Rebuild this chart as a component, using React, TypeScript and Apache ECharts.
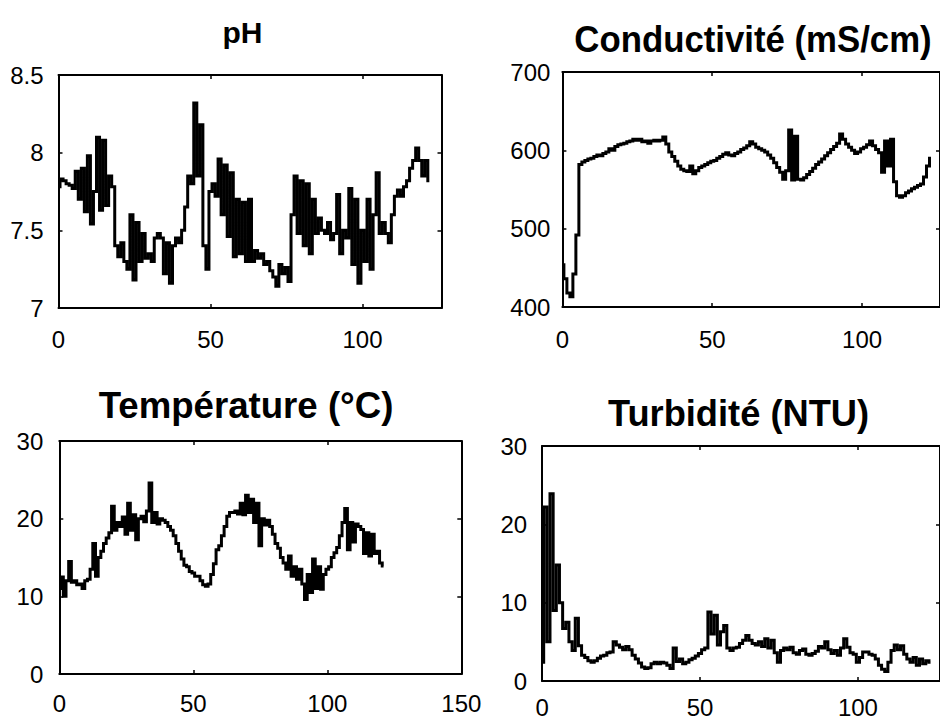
import React, { useEffect, useRef } from "react";
import * as echarts from "echarts";

// ---- data (x = sample index 0,1,2,...) ----
const phValues = [
  7.78, 7.83, 7.82, 7.8, 7.79, 7.77, 7.88, 7.7, 7.9, 7.62,
  7.98, 7.54, 7.75, 8.1, 7.63, 8.08, 7.66, 7.85, 7.78, 7.4,
  7.33, 7.42, 7.3, 7.25, 7.6, 7.18, 7.55, 7.3, 7.48, 7.32,
  7.35, 7.3, 7.45, 7.48, 7.45, 7.22, 7.42, 7.16, 7.4, 7.45,
  7.42, 7.5, 7.65, 7.85, 7.8, 8.32, 7.85, 8.18, 7.4, 7.25,
  7.75, 7.8, 7.72, 7.96, 7.6, 7.92, 7.46, 7.87, 7.33, 7.7,
  7.35, 7.68, 7.3, 7.7, 7.3, 7.37, 7.32, 7.35, 7.28, 7.3,
  7.24, 7.2, 7.14, 7.28, 7.22, 7.26, 7.17, 7.6, 7.85, 7.48,
  7.82, 7.4, 7.8, 7.35, 7.7, 7.48, 7.58, 7.5, 7.48, 7.55,
  7.44, 7.48, 7.73, 7.35, 7.5, 7.45, 7.77, 7.28, 7.7, 7.16,
  7.5, 7.3, 7.7, 7.25, 7.6, 7.87, 7.48, 7.55, 7.48, 7.42,
  7.6, 7.72, 7.76, 7.72, 7.78, 7.82, 7.9, 7.95, 8.03, 7.95,
  7.85, 7.95, 7.82,
];

const condValues = [
  454, 436, 418, 413, 442, 492, 582, 585, 587, 589,
  590, 592, 594, 593, 596, 598, 602, 600, 605, 607,
  608, 609, 611, 612, 614, 613, 614, 611, 612, 609,
  612, 613, 612, 613, 617, 608, 598, 592, 586, 580,
  576, 574, 573, 580, 570, 574, 578, 580, 582, 584,
  586, 587, 590, 592, 595, 597, 594, 593, 596, 598,
  601, 603, 606, 611, 608, 604, 602, 600, 598, 594,
  590, 584, 578, 572, 563, 574, 626, 562, 618, 563,
  562, 565, 569, 573, 577, 582, 585, 589, 593, 597,
  601, 605, 609, 621, 614, 608, 604, 600, 596, 598,
  602, 604, 607, 612, 606, 601, 597, 572, 612, 580,
  614, 560, 542, 540, 542, 546, 548, 551, 553, 555,
  557, 566, 580, 590,
];

const tempValues = [
  11.0, 12.5, 10.0, 12.0, 14.5, 11.8, 12.0, 11.5, 11.6, 11.0,
  12.0, 12.2, 13.5, 16.8, 12.6, 15.0, 15.8, 16.8, 17.5, 18.2,
  21.6, 18.5, 19.5, 19.0, 20.2, 18.0, 22.0, 18.5, 20.5, 17.3,
  20.0, 20.3, 19.6, 21.0, 24.6, 19.5, 20.8, 19.3, 20.0, 19.8,
  19.5, 19.0, 18.5, 17.8, 16.8, 15.8, 14.8, 14.0, 13.8, 13.2,
  13.0, 12.6, 12.6, 12.0, 11.5, 11.3, 11.6, 12.8, 14.2, 16.0,
  16.5, 17.8, 19.0, 20.3, 20.8, 20.8, 21.0, 20.6, 22.0, 20.5,
  23.0, 20.8, 22.5, 19.5, 22.0, 16.5, 20.0, 19.2, 19.8, 19.0,
  18.0, 16.8, 16.2, 15.0, 14.3, 13.5, 15.2, 12.6, 13.8, 12.2,
  13.5, 11.6, 9.6, 12.8, 10.5, 14.8, 11.0, 13.8, 10.9, 12.8,
  13.5, 13.8, 15.0, 15.6, 16.3, 17.8, 19.5, 21.3, 16.0, 19.5,
  17.0, 19.3, 19.0, 18.6, 15.5, 18.2, 15.2, 18.0, 15.5, 15.8,
  14.3, 13.9,
];

const turbValues = [
  2.4, 22.2, 5.0, 23.9, 9.0, 14.8, 10.0, 6.7, 7.5, 5.0,
  3.9, 8.0, 4.5, 3.3, 3.0, 2.6, 2.4, 2.6, 2.9, 3.2,
  3.3, 3.6, 3.7, 5.0, 4.6, 4.3, 4.0, 4.4, 4.0, 3.3,
  2.8, 2.3, 1.8, 1.6, 1.7, 2.2, 2.4, 2.2, 2.4, 2.3,
  2.0, 1.6, 4.2, 2.5, 2.8, 2.2, 2.4, 2.7, 2.9, 3.2,
  3.5, 4.0, 4.2, 8.8, 6.0, 8.4, 4.6, 6.3, 7.1, 4.2,
  3.9, 4.2, 4.3, 4.8, 5.2, 5.8, 5.2, 4.8, 4.6, 5.0,
  4.4, 5.4, 4.2, 5.2, 3.6, 2.4, 3.9, 4.2, 4.0, 4.3,
  3.6, 3.4, 3.9, 4.1, 3.4, 3.3, 3.5, 3.8, 4.4, 4.2,
  5.0, 4.0, 3.5, 3.9, 3.3, 4.2, 5.4, 4.3, 3.6, 3.4,
  2.4, 3.0, 3.7, 3.7, 3.4, 3.3, 2.8, 2.0, 1.5, 1.2,
  2.4, 3.9, 4.6, 4.0, 4.5, 3.4, 2.8, 2.4, 3.0, 2.0,
  2.8, 2.2, 2.6, 2.4,
];

const titles = ["pH", "Conductivité (mS/cm)", "Température (°C)", "Turbidité (NTU)"];
// [min, max, interval] for each panel
const xRanges = [[0, 126, 50], [0, 126, 50], [0, 150, 50], [0, 126, 50]];
const yRanges = [[7, 8.5, 0.5], [400, 700, 100], [0, 30, 10], [0, 30, 10]];

const FONT = '"Liberation Sans", Arial, Helvetica, sans-serif';

export default function App() {
  const ref = useRef<HTMLDivElement>(null);
  useEffect(() => {
    if (!ref.current) return;
    const chart = echarts.init(ref.current, undefined, { renderer: "svg" });

    const grids = [
      { left: 58.5, top: 75, width: 383, height: 233 },
      { left: 562.4, top: 72, width: 383.8, height: 235 },
      { left: 59.3, top: 441, width: 402, height: 233 },
      { left: 542.1, top: 446, width: 409.8, height: 235 },
    ];
    const xMargins = [19, 20, 17, 14];
    const yMargins = [15, 12, 16, 15];
    const allValues = [phValues, condValues, tempValues, turbValues];

    const lineStyle = { color: "#000", width: 2 };
    const xAxes: any[] = [];
    const yAxes: any[] = [];
    grids.forEach((_, i) => {
      const [xmin, xmax, xint] = xRanges[i];
      const [ymin, ymax, yint] = yRanges[i];
      xAxes.push({
        type: "value", gridIndex: i, position: "bottom", min: xmin, max: xmax, interval: xint,
        axisLine: { show: true, onZero: false, lineStyle },
        axisTick: { show: true, inside: true, length: 4, lineStyle: { color: "#000", width: 1.5 } },
        axisLabel: { show: true, color: "#000", fontSize: 24, fontFamily: FONT, margin: xMargins[i], showMaxLabel: xmax % xint === 0 },
        splitLine: { show: false },
      });
      xAxes.push({
        type: "value", gridIndex: i, position: "top", min: xmin, max: xmax, interval: xint,
        axisLine: { show: true, onZero: false, lineStyle },
        axisTick: { show: true, inside: true, length: 4, lineStyle: { color: "#000", width: 1.5 } },
        axisLabel: { show: false },
        splitLine: { show: false },
      });
      yAxes.push({
        type: "value", gridIndex: i, position: "left", min: ymin, max: ymax, interval: yint,
        axisLine: { show: true, onZero: false, lineStyle },
        axisTick: { show: true, inside: true, length: 4, lineStyle: { color: "#000", width: 1.5 } },
        axisLabel: { show: true, color: "#000", fontSize: 24, fontFamily: FONT, margin: yMargins[i] },
        splitLine: { show: false },
      });
      yAxes.push({
        type: "value", gridIndex: i, position: "right", min: ymin, max: ymax, interval: yint,
        axisLine: { show: true, onZero: false, lineStyle },
        axisTick: { show: true, inside: true, length: 4, lineStyle: { color: "#000", width: 1.5 } },
        axisLabel: { show: false },
        splitLine: { show: false },
      });
    });

    const series = allValues.map((vals, i) => ({
      type: "line",
      xAxisIndex: i * 2,
      yAxisIndex: i * 2,
      data: vals.map((v, k) => [k, v]),
      showSymbol: false,
      symbol: "none",
      step: "middle",
      clip: true,
      lineStyle: { color: "#000", width: 3, join: "miter" },
    }));

    const titlePos = [
      { x: 242.5, y: 32.5, size: 30, sx: 1 },
      { x: 753, y: 40, size: 37, sx: 0.94 },
      { x: 246, y: 405, size: 37, sx: 0.99 },
      { x: 738.5, y: 413.5, size: 37, sx: 0.98 },
    ];

    chart.setOption({
      animation: false,
      backgroundColor: "#fff",
      grid: grids.map((g) => ({ ...g, containLabel: false })),
      xAxis: xAxes,
      yAxis: yAxes,
      series,
      graphic: titles.map((t, i) => ({
        type: "text",
        x: titlePos[i].x,
        y: titlePos[i].y,
        scaleX: titlePos[i].sx,
        style: {
          text: t,
          fill: "#000",
          font: `bold ${titlePos[i].size}px ${FONT}`,
          align: "center",
          verticalAlign: "middle",
          textAlign: "center",
          textVerticalAlign: "middle",
        },
      })),
    });
    return () => chart.dispose();
  }, []);

  return (
    <div
      ref={ref}
      style={{ position: "fixed", left: 0, top: 0, width: 940, height: 722, background: "#fff", overflow: "hidden" }}
    />
  );
}
